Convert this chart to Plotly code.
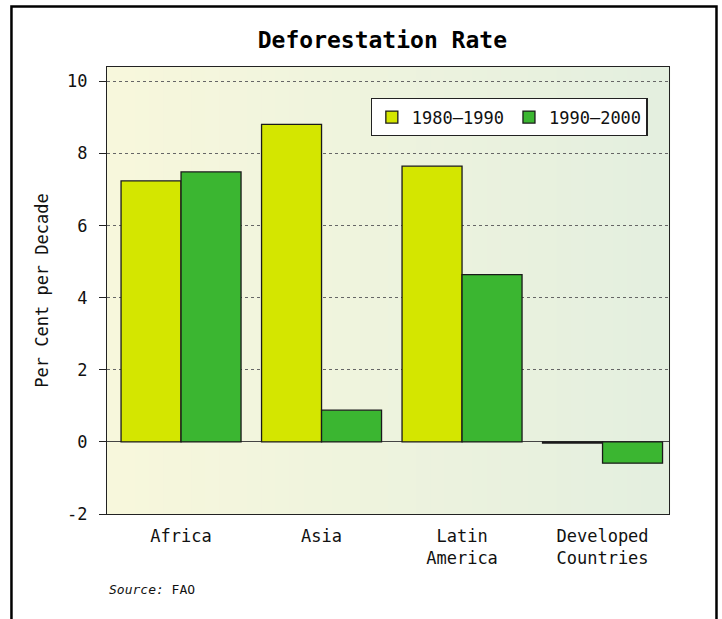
import plotly.graph_objects as go

categories = ["Africa", "Asia", "Latin<br>America", "Developed<br>Countries"]
series_names = ["1980–1990", "1990–2000"]
values_1980_1990 = [7.24, 8.81, 7.65, -0.03]
values_1990_2000 = [7.49, 0.88, 4.64, -0.59]
y_ticks = [-2, 0, 2, 4, 6, 8, 10]
y_tick_labels = ["-2", "0", "2", "4", "6", "8", "10"]

FONT = "DejaVu Sans Mono"
colors = ["#d4e600", "#3bb631"]

fig = go.Figure()
for name, vals, col in zip(series_names, [values_1980_1990, values_1990_2000], colors):
    fig.add_trace(go.Bar(
        x=categories, y=vals, name=name,
        marker=dict(color=col, line=dict(color="#1a1a1a", width=1.3)),
    ))

# horizontal background gradient
n = 40
c0 = (247, 247, 220)
c1 = (228, 239, 223)
shapes = []
for i in range(n):
    t = i / (n - 1)
    c = tuple(round(a + (b - a) * t) for a, b in zip(c0, c1))
    shapes.append(dict(type="rect", xref="x domain", yref="y domain",
                       x0=i / n, x1=(i + 1) / n + 0.002, y0=0, y1=1,
                       fillcolor="rgb(%d,%d,%d)" % c, line=dict(width=0),
                       layer="below"))
# outer frame (open at the bottom)
shapes.append(dict(type="path", xref="paper", yref="paper",
                   path="M -0.170,-0.3 L -0.170,1.1353 L 1.0845,1.1353 L 1.0845,-0.3",
                   line=dict(color="black", width=2.5)))

fig.update_layout(
    width=722, height=619,
    margin=dict(l=107, r=53, t=67, b=105),
    paper_bgcolor="white",
    plot_bgcolor="#eef3de",
    font=dict(family=FONT, size=17, color="#111111"),
    title=dict(text="<b>Deforestation Rate</b>", x=0.49, xref="paper",
               y=1 - 40 / 619, yref="container", xanchor="center", yanchor="middle",
               font=dict(family=FONT, size=23, color="black")),
    barmode="group",
    bargap=0.146,
    bargroupgap=0,
    showlegend=True,
    legend=dict(orientation="h", x=0.962, y=0.93, xanchor="right", yanchor="top",
                bgcolor="white", bordercolor="#222222", borderwidth=1.2,
                font=dict(family=FONT, size=17, color="#111111"),
                traceorder="normal", itemwidth=30, tracegroupgap=0),
    shapes=shapes,
    annotations=[dict(text="<i>Source:</i> FAO", xref="paper", yref="paper",
                      x=0, y=-0.168, xanchor="left", yanchor="middle",
                      showarrow=False, font=dict(family=FONT, size=13, color="#111111"))],
)
fig.update_xaxes(range=[-0.527, 3.473], showgrid=False, showline=True,
                 linecolor="#222222", linewidth=1.3, mirror=True, ticks="",
                 tickfont=dict(size=17), zeroline=False, ticklabelstandoff=6)
fig.update_yaxes(range=[-2, 10.4], tickvals=y_ticks, ticktext=y_tick_labels,
                 showgrid=True, gridcolor="#666666", griddash="dot", gridwidth=1,
                 showline=True, linecolor="#222222", linewidth=1.3, mirror=True,
                 ticks="outside", ticklen=7, tickcolor="#222222",
                 zeroline=True, zerolinecolor="#444444", zerolinewidth=1.2,
                 ticklabelstandoff=8,
                 title=dict(text="Per Cent per Decade", font=dict(size=17), standoff=14),
                 tickfont=dict(size=17))

fig.write_html("out.html", config={"displayModeBar": False},
               post_script="document.body.style.margin='0';")
